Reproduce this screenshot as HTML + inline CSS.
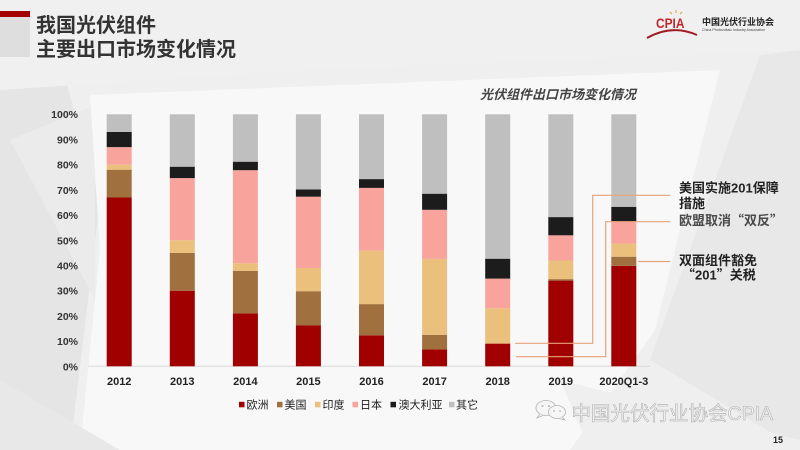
<!DOCTYPE html>
<html><head><meta charset="utf-8"><style>
html,body{margin:0;padding:0;width:800px;height:450px;overflow:hidden;background:#f2f2f2}
svg{display:block}
text{font-family:"Liberation Sans","Noto Sans CJK SC",sans-serif}
.cjk{font-family:"Noto Sans CJK SC",sans-serif}
</style></head><body>
<svg width="800" height="450" viewBox="0 0 800 450" xmlns="http://www.w3.org/2000/svg">
<!-- background -->
<rect width="800" height="450" fill="#efefef"/>
<polygon points="0,60 60,60 100,200 70,450 0,450" fill="#e5e5e5"/>
<polygon points="10,140 95,105 95,300" fill="#ebebeb"/>
<polygon points="90,95 720,70 655,330 570,450 80,450 100,250" fill="#f8f8f8"/>
<polygon points="760,55 800,50 800,450 650,360" fill="#e8e8e8"/>
<polygon points="560,380 800,440 800,450 590,450" fill="#efefef"/>
<polygon points="0,380 120,450 0,450" fill="#e8e8e8"/>
<polygon points="0,0 800,0 800,50 300,70 0,90" fill="#f0f0f0"/>
<rect x="0" y="17" width="30" height="40" fill="#dedede"/>
<rect x="0" y="11" width="30" height="6" fill="#a50000"/>

<!-- title -->
<text x="36" y="32" font-size="20" font-weight="bold" fill="#333">我国光伏组件</text>
<text x="36" y="56" font-size="20" font-weight="bold" fill="#333">主要出口市场变化情况</text>

<!-- logo -->
<text x="656" y="28" font-size="14" font-weight="bold" fill="#c0282d" transform="translate(656 0) scale(0.85 1) translate(-656 0)">CPIA</text>
<path d="M647 38 Q672 24 697 35" stroke="#a01c22" stroke-width="2" fill="none"/>
<path d="M676 13 l0 -3 M672 14 l-2 -2 M680 14 l2 -2" stroke="#d9a030" stroke-width="1"/>
<text x="702" y="25" font-size="9" font-weight="bold" fill="#222">中国光伏行业协会</text>
<text x="702" y="31" font-size="3.6" fill="#444">China Photovoltaic Industry Association</text>

<!-- chart title -->
<text x="480" y="99" font-size="13" font-weight="bold" font-style="italic" fill="#444">光伏组件出口市场变化情况</text>

<!-- y axis labels -->
<g font-size="10.5" font-weight="bold" fill="#333" text-anchor="end">
<text x="78" y="118">100%</text>
<text x="78" y="143.5">90%</text>
<text x="78" y="168.7">80%</text>
<text x="78" y="193.9">70%</text>
<text x="78" y="219.1">60%</text>
<text x="78" y="244.3">50%</text>
<text x="78" y="269.5">40%</text>
<text x="78" y="294.7">30%</text>
<text x="78" y="319.9">20%</text>
<text x="78" y="345.1">10%</text>
<text x="78" y="370.3">0%</text>
</g>
<line x1="88" y1="366.3" x2="650" y2="366.3" stroke="#d9d9d9" stroke-width="1"/>

<!-- bars -->
<g>
<!-- 2012 -->
<rect x="106.7" y="197.5" width="25" height="168.8" fill="#a00000"/>
<rect x="106.7" y="169.7" width="25" height="27.8" fill="#a0713f"/>
<rect x="106.7" y="164.7" width="25" height="5" fill="#ebc07d"/>
<rect x="106.7" y="147.1" width="25" height="17.6" fill="#f8a49c"/>
<rect x="106.7" y="131.9" width="25" height="15.2" fill="#1c1c1c"/>
<rect x="106.7" y="114.3" width="25" height="17.6" fill="#bfbfbf"/>
<!-- 2013 -->
<rect x="169.8" y="290.7" width="25" height="75.6" fill="#a00000"/>
<rect x="169.8" y="252.9" width="25" height="37.8" fill="#a0713f"/>
<rect x="169.8" y="240.3" width="25" height="12.6" fill="#ebc07d"/>
<rect x="169.8" y="178.1" width="25" height="62.2" fill="#f8a49c"/>
<rect x="169.8" y="166.7" width="25" height="11.4" fill="#1c1c1c"/>
<rect x="169.8" y="114.3" width="25" height="52.4" fill="#bfbfbf"/>
<!-- 2014 -->
<rect x="232.9" y="313.4" width="25" height="52.9" fill="#a00000"/>
<rect x="232.9" y="271.0" width="25" height="42.4" fill="#a0713f"/>
<rect x="232.9" y="263.2" width="25" height="7.8" fill="#ebc07d"/>
<rect x="232.9" y="170.2" width="25" height="93" fill="#f8a49c"/>
<rect x="232.9" y="161.7" width="25" height="8.5" fill="#1c1c1c"/>
<rect x="232.9" y="114.3" width="25" height="47.4" fill="#bfbfbf"/>
<!-- 2015 -->
<rect x="295.9" y="325.2" width="25" height="41.1" fill="#a00000"/>
<rect x="295.9" y="291.2" width="25" height="34" fill="#a0713f"/>
<rect x="295.9" y="268.0" width="25" height="23.2" fill="#ebc07d"/>
<rect x="295.9" y="196.7" width="25" height="71.3" fill="#f8a49c"/>
<rect x="295.9" y="189.4" width="25" height="7.3" fill="#1c1c1c"/>
<rect x="295.9" y="114.3" width="25" height="75.1" fill="#bfbfbf"/>
<!-- 2016 -->
<rect x="359.0" y="335.3" width="25" height="31" fill="#a00000"/>
<rect x="359.0" y="304.1" width="25" height="31.2" fill="#a0713f"/>
<rect x="359.0" y="250.6" width="25" height="53.5" fill="#ebc07d"/>
<rect x="359.0" y="187.9" width="25" height="62.7" fill="#f8a49c"/>
<rect x="359.0" y="179.1" width="25" height="8.8" fill="#1c1c1c"/>
<rect x="359.0" y="114.3" width="25" height="64.8" fill="#bfbfbf"/>
<!-- 2017 -->
<rect x="422.1" y="349.4" width="25" height="16.9" fill="#a00000"/>
<rect x="422.1" y="334.8" width="25" height="14.6" fill="#a0713f"/>
<rect x="422.1" y="258.9" width="25" height="75.9" fill="#ebc07d"/>
<rect x="422.1" y="209.8" width="25" height="49.1" fill="#f8a49c"/>
<rect x="422.1" y="193.7" width="25" height="16.1" fill="#1c1c1c"/>
<rect x="422.1" y="114.3" width="25" height="79.4" fill="#bfbfbf"/>
<!-- 2018 -->
<rect x="485.2" y="343.6" width="25" height="22.7" fill="#a00000"/>
<rect x="485.2" y="308.1" width="25" height="35.5" fill="#ebc07d"/>
<rect x="485.2" y="278.6" width="25" height="29.5" fill="#f8a49c"/>
<rect x="485.2" y="258.7" width="25" height="19.9" fill="#1c1c1c"/>
<rect x="485.2" y="114.3" width="25" height="144.4" fill="#bfbfbf"/>
<!-- 2019 -->
<rect x="548.3" y="280.6" width="25" height="85.7" fill="#a00000"/>
<rect x="548.3" y="279.1" width="25" height="1.5" fill="#a0713f"/>
<rect x="548.3" y="260.5" width="25" height="18.6" fill="#ebc07d"/>
<rect x="548.3" y="235.3" width="25" height="25.2" fill="#f8a49c"/>
<rect x="548.3" y="217.1" width="25" height="18.2" fill="#1c1c1c"/>
<rect x="548.3" y="114.3" width="25" height="102.8" fill="#bfbfbf"/>
<!-- 2020 -->
<rect x="611.3" y="265.8" width="25" height="100.5" fill="#a00000"/>
<rect x="611.3" y="256.7" width="25" height="9.1" fill="#a0713f"/>
<rect x="611.3" y="243.6" width="25" height="13.1" fill="#ebc07d"/>
<rect x="611.3" y="221.4" width="25" height="22.2" fill="#f8a49c"/>
<rect x="611.3" y="206.8" width="25" height="14.6" fill="#1c1c1c"/>
<rect x="611.3" y="114.3" width="25" height="92.5" fill="#bfbfbf"/>
</g>

<!-- x labels -->
<g font-size="11" font-weight="bold" fill="#222" text-anchor="middle">
<text x="119.2" y="385">2012</text>
<text x="182.3" y="385">2013</text>
<text x="245.4" y="385">2014</text>
<text x="308.4" y="385">2015</text>
<text x="371.5" y="385">2016</text>
<text x="434.6" y="385">2017</text>
<text x="497.7" y="385">2018</text>
<text x="560.8" y="385">2019</text>
<text x="623.8" y="385">2020Q1-3</text>
</g>

<!-- annotation lines -->
<g stroke="#e8a27c" stroke-width="1.2" fill="none">
<path d="M515 343.3 H592.7 V195.3 H670"/>
<path d="M516 356.7 H605.7 V221.7 H670"/>
<path d="M638 261.5 H670"/>
</g>

<!-- annotations -->
<g font-size="13" font-weight="bold" fill="#222">
<text x="679" y="192.5">美国实施201保障</text>
<text x="679" y="208">措施</text>
<text x="679" y="225" fill="#4a4a4a">欧盟取消<tspan class="cjk">“</tspan>双反<tspan class="cjk">”</tspan></text>
<text x="679" y="265">双面组件豁免</text>
<text x="682" y="279.5"><tspan class="cjk">“</tspan>201<tspan class="cjk">”</tspan>关税</text>
</g>

<!-- legend -->
<g font-size="11" fill="#222">
<rect x="239" y="401.8" width="5.5" height="5.5" fill="#a00000"/><text x="246.5" y="408.5">欧洲</text>
<rect x="277" y="401.8" width="5.5" height="5.5" fill="#a0713f"/><text x="284.5" y="408.5">美国</text>
<rect x="315" y="401.8" width="5.5" height="5.5" fill="#ebc07d"/><text x="322.5" y="408.5">印度</text>
<rect x="352.5" y="401.8" width="5.5" height="5.5" fill="#f8a49c"/><text x="360" y="408.5">日本</text>
<rect x="390.5" y="401.8" width="5.5" height="5.5" fill="#1c1c1c"/><text x="398.5" y="408.5">澳大利亚</text>
<rect x="449" y="401.8" width="5.5" height="5.5" fill="#bfbfbf"/><text x="456" y="408.5">其它</text>
</g>

<!-- watermark -->
<g fill="#f6f6f6" stroke="#b3b3b3" stroke-width="0.8">
<ellipse cx="546" cy="408" rx="10" ry="7.5"/>
<path d="M540 414 l-3 4 l6 -2.5" />
<ellipse cx="557" cy="412" rx="8.5" ry="6.5"/>
<path d="M562 417 l3 3 l-6 -1.5"/>
</g>
<g fill="#b3b3b3"><circle cx="542.5" cy="406" r="1"/><circle cx="549" cy="406" r="1"/><circle cx="554" cy="411" r="0.9"/><circle cx="560" cy="411" r="0.9"/></g>
<text x="571.5" y="420" font-size="19.5" fill="#f6f6f6" stroke="#b0b0b0" stroke-width="0.6">中国光伏行业协会CPIA</text>

<!-- page number -->
<text x="773" y="443" font-size="9" font-weight="bold" fill="#222">15</text>
</svg>
</body></html>
